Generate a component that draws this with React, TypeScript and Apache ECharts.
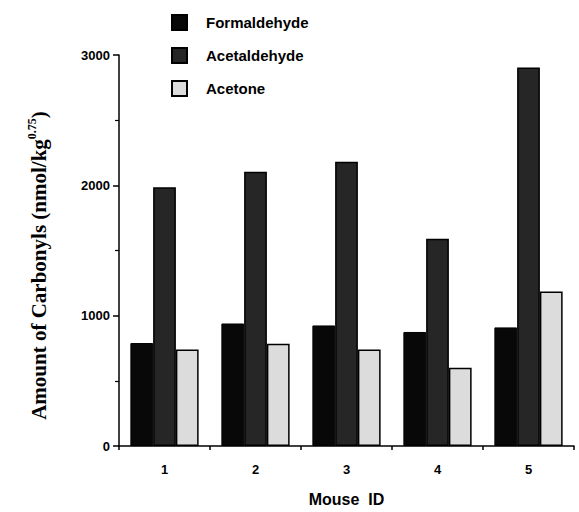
import React, { useEffect, useRef } from "react";
import * as echarts from "echarts";

const categories = ["1", "2", "3", "4", "5"];
const formaldehyde = [790, 940, 925, 875, 910];
const acetaldehyde = [1985, 2105, 2180, 1590, 2905];
const acetone = [740, 785, 740, 600, 1185];
const yTicks = [0, 1000, 2000, 3000];

export default function App() {
  const ref = useRef<HTMLDivElement>(null);
  useEffect(() => {
    if (!ref.current) return;
    const chart = echarts.init(ref.current, null, { renderer: "svg" });
    const sans = "'Liberation Sans', Arial, sans-serif";
    const serif = "'Liberation Serif', 'Times New Roman', serif";
    chart.setOption({
      animation: false,
      backgroundColor: "#ffffff",
      legend: {
        orient: "vertical",
        left: 166,
        top: 9,
        itemGap: 16,
        itemWidth: 15,
        itemHeight: 15,
        icon: "rect",
        textStyle: { fontFamily: sans, fontWeight: "bold", fontSize: 15, color: "#000", padding: [0, 0, 0, 14] },
        data: ["Formaldehyde", "Acetaldehyde", "Acetone"],
      },
      grid: { left: 119, top: 55, right: 5, bottom: 61 },
      xAxis: {
        type: "category",
        data: categories,
        name: "Mouse  ID",
        nameLocation: "middle",
        nameGap: 45,
        nameTextStyle: { fontFamily: sans, fontWeight: "bold", fontSize: 16, color: "#000" },
        axisLine: { lineStyle: { color: "#000", width: 1.5 } },
        axisTick: { show: true, length: 4, lineStyle: { color: "#000", width: 1.5 } },
        axisLabel: { fontFamily: sans, fontWeight: "bold", fontSize: 13, color: "#000", margin: 17 },
      },
      yAxis: {
        type: "value",
        min: 0,
        max: 3000,
        interval: 1000,
        name: "{a|Amount of Carbonyls (nmol/kg}{s|0.75}{a|)}",
        nameLocation: "middle",
        nameGap: 70,
        nameTextStyle: {
          padding: [0, 30, 0, 0],
          rich: {
            a: { fontFamily: serif, fontWeight: "bold", fontSize: 21, color: "#000", verticalAlign: "bottom" },
            s: { fontFamily: serif, fontWeight: "bold", fontSize: 12, color: "#000", verticalAlign: "top", padding: [0, 0, 11, 0] },
          },
        },
        axisLine: { show: true, lineStyle: { color: "#000", width: 1.5 } },
        axisTick: { show: true, length: 6, lineStyle: { color: "#000", width: 1.5 } },
        minorTick: { show: true, splitNumber: 2, length: 4, lineStyle: { color: "#000", width: 1.2 } },
        splitLine: { show: false },
        axisLabel: {
          fontFamily: sans,
          fontWeight: "bold",
          fontSize: 13,
          color: "#000",
          margin: 9,
          formatter: (v: number) => (yTicks.includes(v) ? String(v) : ""),
        },
      },
      series: [
        {
          name: "Formaldehyde",
          type: "bar",
          data: formaldehyde,
          barGap: "0%",
          barCategoryGap: "25%",
          itemStyle: { color: "#080808", borderColor: "#000", borderWidth: 1 },
        },
        {
          name: "Acetaldehyde",
          type: "bar",
          data: acetaldehyde,
          itemStyle: { color: "#262626", borderColor: "#000", borderWidth: 1.5 },
        },
        {
          name: "Acetone",
          type: "bar",
          data: acetone,
          itemStyle: { color: "#dcdcdc", borderColor: "#000", borderWidth: 1.5 },
        },
      ],
    });
    return () => chart.dispose();
  }, []);
  return <div ref={ref} style={{ width: 579, height: 512, position: "absolute", left: 0, top: 0 }} />;
}
